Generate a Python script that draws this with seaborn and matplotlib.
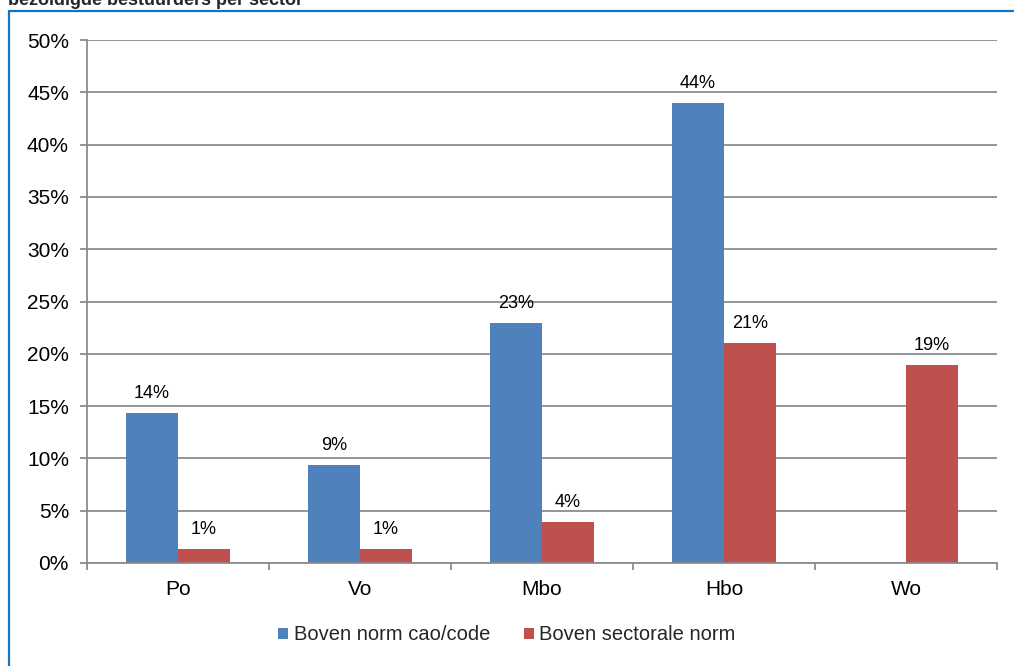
import matplotlib
matplotlib.use("Agg")
import matplotlib.pyplot as plt
from matplotlib.lines import Line2D
import numpy as np
import pandas as pd
import seaborn as sns

# values (percent)
sectors = ["Po", "Vo", "Mbo", "Hbo", "Wo"]
boven_cao = [14.3, 9.4, 22.9, 44.0, np.nan]
boven_sector = [1.3, 1.35, 3.9, 21.0, 18.9]
series_names = ["Boven norm cao/code", "Boven sectorale norm"]
yticks = [0, 5, 10, 15, 20, 25, 30, 35, 40, 45, 50]

df = pd.DataFrame({
    "sector": sectors * 2,
    "serie": [series_names[0]] * len(sectors) + [series_names[1]] * len(sectors),
    "pct": boven_cao + boven_sector,
})

sns.set_style("white")
plt.rcParams["font.family"] = ["Liberation Sans", "DejaVu Sans"]

grid_col = "#8c8c8c"
fig = plt.figure(figsize=(10.14, 6.66), dpi=100)
ax = fig.add_axes([87 / 1014, 1 - 563 / 666, 910 / 1014, 523 / 666])

sns.barplot(data=df, x="sector", y="pct", hue="serie", order=sectors,
            hue_order=series_names, palette=["#4F81BD", "#C0504D"],
            errorbar=None, width=0.57, gap=0, saturation=1, ax=ax,
            edgecolor="none")

for cont in ax.containers:
    ax.bar_label(cont, fmt="%.0f%%", padding=8, fontsize=13, color="black")

ax.set_ylim(0, 50)
ax.set_xlim(-0.5, 4.5)
ax.set_yticks(yticks)
ax.set_yticklabels([f"{t}%" for t in yticks], fontsize=15, color="black")
ax.yaxis.grid(True, color=grid_col, linewidth=1.3)
ax.set_axisbelow(True)
ax.set_xlabel("")
ax.set_ylabel("")

# category labels in the middle, tick marks between categories
ax.set_xticks(np.arange(len(sectors)))
ax.set_xticklabels(sectors, fontsize=15, color="black")
ax.tick_params(axis="x", which="major", length=0, pad=12)
ax.set_xticks(np.arange(len(sectors) + 1) - 0.5, minor=True)
ax.tick_params(axis="x", which="minor", length=5, width=1.3, color=grid_col,
               direction="out", bottom=True)
ax.tick_params(axis="y", length=5, width=1.3, color=grid_col, direction="out",
               left=True, pad=8)

for s in ["top", "right"]:
    ax.spines[s].set_visible(False)
for s in ["left", "bottom"]:
    ax.spines[s].set_color(grid_col)
    ax.spines[s].set_linewidth(1.3)

handles, labels = ax.get_legend_handles_labels()
ax.get_legend().remove()
fig.legend(handles, labels, loc="center", bbox_to_anchor=(0.5, 1 - 635 / 666),
           ncol=2, frameon=False, fontsize=14.5, handlelength=0.5,
           handleheight=0.5, handletextpad=0.25, columnspacing=1.7)

# title sits mostly above the top edge, as in the reference, and the blue frame
fig.text(8 / 1014, 1 - 5 / 666, "bezoldigde bestuurders per sector",
         fontsize=13, fontweight="bold", va="baseline", ha="left")
fig.add_artist(Line2D([8.5 / 1014, 8.5 / 1014], [0, 1 - 10.5 / 666],
                      color="#1474c4", linewidth=1.6, transform=fig.transFigure))
fig.add_artist(Line2D([8.5 / 1014, 1], [1 - 10.5 / 666, 1 - 10.5 / 666],
                      color="#1474c4", linewidth=1.6, transform=fig.transFigure))

fig.savefig("out.png", dpi=100)
